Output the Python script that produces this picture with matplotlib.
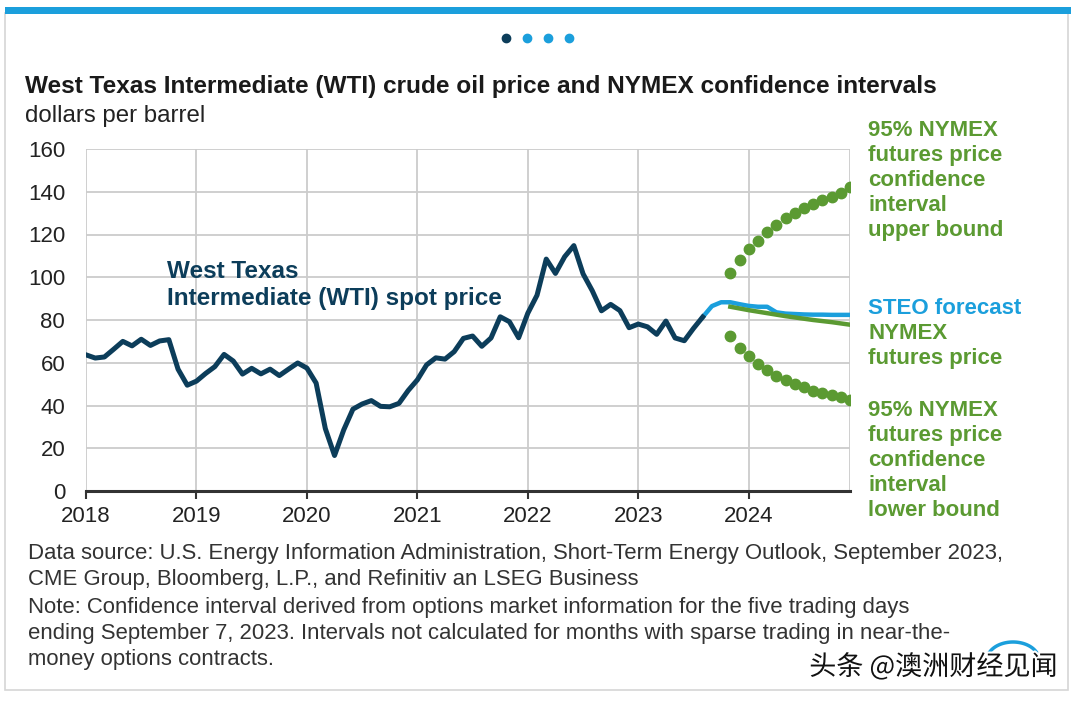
import numpy as np
import matplotlib
matplotlib.use("Agg")
from matplotlib import pyplot as plt
from matplotlib import patheffects as pe
from matplotlib.lines import Line2D
from matplotlib.patches import Rectangle

plt.rcParams['font.family'] = ['Liberation Sans', 'DejaVu Sans']

# colours
NAVY = '#0c3d5a'
BLUE = '#1b9fdc'
GREEN = '#5b9a32'

# monthly WTI spot price, Jan 2018 .. Aug 2023
wti_spot = [
    63.7, 62.2, 62.7, 66.3, 70.0, 67.9, 71.0, 68.1, 70.2, 70.8, 57.0, 49.5,
    51.4, 55.0, 58.2, 63.9, 60.8, 54.7, 57.4, 54.8, 57.0, 54.0, 57.0, 59.9,
    57.5, 50.5, 29.2, 16.6, 28.6, 38.3, 40.7, 42.3, 39.6, 39.4, 41.0, 47.0,
    52.0, 59.0, 62.3, 61.7, 65.2, 71.4, 72.5, 67.7, 71.6, 81.5, 79.2, 71.7,
    83.2, 91.6, 108.5, 101.8, 109.6, 114.8, 101.6, 93.7, 84.3, 87.3, 84.4, 76.4,
    78.1, 76.8, 73.3, 79.5, 71.6, 70.3, 76.1, 81.4,
]
# STEO forecast, Aug 2023 .. Dec 2024
steo_forecast = [81.4, 86.5, 88.3, 88.3, 87.4, 86.6, 86.2, 86.2, 83.6, 83.0,
                 82.8, 82.6, 82.5, 82.5, 82.4, 82.4, 82.4]
# NYMEX futures and 95% bounds, Nov 2023 .. Dec 2024
nymex_futures = [86.2, 85.4, 84.6, 83.9, 83.2, 82.5, 81.8, 81.2, 80.6, 80.0,
                 79.5, 79.0, 78.4, 77.8]
upper_bound = [102.0, 108.0, 113.0, 117.0, 121.0, 124.5, 127.5, 130.0, 132.5,
               134.5, 136.0, 137.5, 139.5, 142.0]
lower_bound = [72.5, 67.0, 63.0, 59.5, 56.5, 54.0, 52.0, 50.0, 48.5, 47.0,
               46.0, 45.0, 44.0, 42.6]

years = ['2018', '2019', '2020', '2021', '2022', '2023', '2024']
y_ticks = [0, 20, 40, 60, 80, 100, 120, 140, 160]

# month index from Jan 2018
x_spot = np.arange(len(wti_spot))
x_steo = np.arange(len(steo_forecast)) + 67
x_nymex = np.arange(len(nymex_futures)) + 70

fig = plt.figure(figsize=(10.8, 7.03), dpi=100)

# frame + top bar
fig.patches.append(Rectangle((5 / 1080, 13 / 703), 1063 / 1080, 677 / 703, transform=fig.transFigure,
                             fill=False, edgecolor='#d6d6d6', linewidth=1.2))
fig.patches.append(Rectangle((5 / 1080, 1 - 14 / 703), 1066 / 1080, 7 / 703, transform=fig.transFigure,
                             facecolor=BLUE, edgecolor='none'))
for i, c in enumerate([NAVY, BLUE, BLUE, BLUE]):
    fig.lines.append(Line2D([(506 + i * 21) / 1080], [1 - 38 / 703], transform=fig.transFigure,
                            marker='o', markersize=6, color=c, linestyle='none'))

ax = fig.add_axes([86 / 1080, 1 - 491 / 703, 764 / 1080, 342 / 703])

ax.plot(x_spot, wti_spot, color=NAVY, linewidth=3.6, solid_joinstyle='round', zorder=4)
ax.plot(x_steo, steo_forecast, color=BLUE, linewidth=3.2, zorder=3)
ax.plot(x_nymex, nymex_futures, color=GREEN, linewidth=3.2, zorder=3)
ax.plot(x_nymex, upper_bound, color=GREEN, marker='o', markersize=7.5, linestyle='none', zorder=3)
ax.plot(x_nymex, lower_bound, color=GREEN, marker='o', markersize=7.5, linestyle='none', zorder=3)

ax.set_xlim(0, 83)
ax.set_ylim(0, 160)
ax.set_xticks(np.arange(len(years)) * 12)
ax.set_xticklabels(years)
ax.set_yticks(y_ticks)
ax.tick_params(axis='y', labelsize=16, colors='#222222', length=0, pad=15)
ax.tick_params(axis='x', labelsize=16, colors='#222222', length=6, width=1.5, pad=5)
ax.tick_params(axis='x', color='#333333')
ax.grid(True, color='#cccccc', linewidth=1.3)
ax.axvline(83, color='#cccccc', linewidth=1.3)
for s in ['top', 'right', 'left']:
    ax.spines[s].set_visible(False)
ax.spines['bottom'].set_color('#333333')
ax.spines['bottom'].set_linewidth(2.2)
ax.spines['bottom'].set_zorder(5)

ax.text(8.8, 96.5, 'West Texas\nIntermediate (WTI) spot price', color=NAVY, fontsize=17.5,
        fontweight='bold', ha='left', va='center', linespacing=1.2)

# right-hand labels
fx = 868 / 1080
lab = dict(fontsize=16, fontweight='bold', ha='left', va='top', linespacing=1.25)
fig.text(fx, 1 - 120 / 703, '95% NYMEX\nfutures price\nconfidence\ninterval\nupper bound', color=GREEN, **lab)
fig.text(fx, 1 - 298 / 703, 'STEO forecast', color=BLUE, **lab)
fig.text(fx, 1 - 323 / 703, 'NYMEX\nfutures price', color=GREEN, **lab)
fig.text(fx, 1 - 400 / 703, '95% NYMEX\nfutures price\nconfidence\ninterval\nlower bound', color=GREEN, **lab)

fig.text(25 / 1080, 1 - 87 / 703,
         'West Texas Intermediate (WTI) crude oil price and NYMEX confidence intervals',
         fontsize=17.6, fontweight='bold', color='#1a1a1a', va='center')
fig.text(25 / 1080, 1 - 116 / 703, 'dollars per barrel', fontsize=17.3, color='#222222', va='center')

foot = dict(fontsize=15.9, color='#333333', va='center')
fig.text(28 / 1080, 1 - 553 / 703,
         'Data source: U.S. Energy Information Administration, Short-Term Energy Outlook, September 2023,', **foot)
fig.text(28 / 1080, 1 - 579 / 703, 'CME Group, Bloomberg, L.P., and Refinitiv an LSEG Business', **foot)
fig.text(28 / 1080, 1 - 607 / 703,
         'Note: Confidence interval derived from options market information for the five trading days', **foot)
fig.text(28 / 1080, 1 - 633 / 703,
         'ending September 7, 2023. Intervals not calculated for months with sparse trading in near-the-', **foot)
fig.text(28 / 1080, 1 - 659 / 703, 'money options contracts.', **foot)

# logo swoosh + watermark
t = np.linspace(0.15, 0.95, 40) * np.pi
sx = (1013 + 26 * np.cos(np.pi - t)) / 1080
sy = 1 - (660 - 18 * np.sin(t)) / 703
fig.lines.append(Line2D(sx, sy, transform=fig.transFigure, color=BLUE, linewidth=2.5))
fig.text(1058 / 1080, 1 - 667 / 703, '头条 @澳洲财经见闻', fontsize=19.5, color='#111111',
         family=['Noto Sans CJK SC', 'DejaVu Sans'], ha='right', va='center',
         path_effects=[pe.withStroke(linewidth=3, foreground='white')])

fig.savefig('out.png', dpi=100, facecolor='white')
